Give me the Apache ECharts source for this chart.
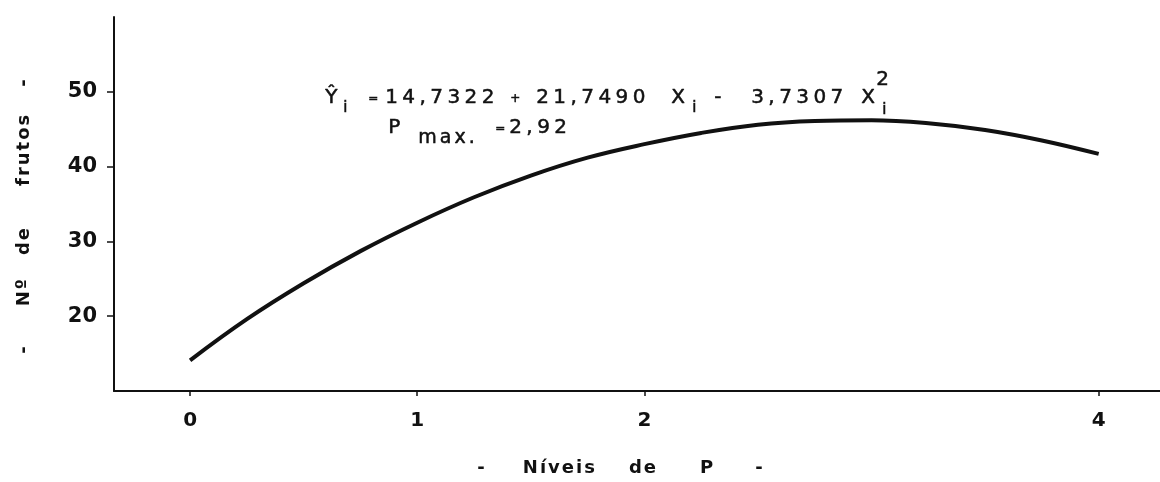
<!DOCTYPE html>
<html>
<head>
<meta charset="utf-8">
<script src="https://cdn.jsdelivr.net/npm/echarts@6/dist/echarts.min.js"></script>
<style>
  html, body { margin: 0; padding: 0; background: #fff; }
  #chart { width: 1160px; height: 482px; }
</style>
</head>
<body>
<div id="chart"></div>
<script>
// Phosphorus levels (x) and fitted number of fruits (y)
const pLevels = [0, 0.25, 0.5, 0.75, 1, 1.25, 1.5, 1.75, 2, 2.25, 2.5, 2.75, 3, 3.25, 3.5, 3.75, 4];
const fruits  = [14.1, 19.6, 24.4, 28.7, 32.5, 35.9, 38.8, 41.2, 43.0, 44.5, 45.6, 46.1, 46.2, 45.8, 44.9, 43.5, 41.7];

const xTicks = [0, 1, 2, 4];
const yTicks = [20, 30, 40, 50];

// axis titles: words separated by gaps (px)
const xTitleParts = ['-', 36, 'Níveis', 32, 'de', 42, 'P', 40, '-'];
const yTitleParts = ['-', 38, 'Nº', 22, 'de', 40, 'frutos', 26, '-'];

const INK = '#111';
const FONT = '"DejaVu Sans", sans-serif';

// wide-lettered rich text: every glyph gets side padding, numbers become gaps
function lettered(parts, key) {
  return parts.map(p => typeof p === 'number'
    ? `{gap${p}| }`
    : p.split('').map(c => `{${key}|${c}}`).join('')).join('');
}
function gapStyles(parts, base) {
  const out = {};
  parts.filter(p => typeof p === 'number').forEach(p => {
    out['gap' + p] = Object.assign({}, base, { width: p, padding: 0 });
  });
  return out;
}

const titleBase = { fontFamily: FONT, fontSize: 18, fontWeight: 'bold', color: INK, padding: [0, 1, 0, 1] };
const xTitleRich = Object.assign({ c: titleBase }, gapStyles(xTitleParts, titleBase));
const yTitleRich = Object.assign({ c: titleBase }, gapStyles(yTitleParts, titleBase));

// lettering for the equation, slightly heavier than the plain face
const pen = { fontFamily: FONT, fill: INK, stroke: INK, lineWidth: 0.5 };
const eqRich = {
  t: Object.assign({ fontSize: 20, padding: [0, 2.2, 0, 2.2] }, pen),
  m: Object.assign({ fontSize: 19, padding: [0, 1.5, 0, 1.5] }, pen),
  s: Object.assign({ fontSize: 15, padding: [0, 1, 0, 1] }, pen),
  o: Object.assign({ fontSize: 12, padding: [0, 1, 0, 1] }, pen)
};

function txt(x, y, str, key) {
  return {
    type: 'text', left: x, top: y, silent: true,
    style: { text: str.split('').map(c => `{${key}|${c}}`).join(''), rich: eqRich, fill: INK }
  };
}

const chart = echarts.init(document.getElementById('chart'), null, { renderer: 'canvas' });

chart.setOption({
  backgroundColor: '#fff',
  animation: false,
  grid: { left: 114, right: 0, top: 17, bottom: 89 },
  xAxis: {
    type: 'value',
    min: -0.335, max: 4.27,
    name: lettered(xTitleParts, 'c'),
    nameLocation: 'middle',
    nameGap: 68,
    nameTextStyle: { rich: xTitleRich, padding: [0, 34, 0, 0] },
    axisLine: { onZero: false, lineStyle: { color: INK, width: 2 } },
    axisTick: { show: true, customValues: xTicks, length: 5, lineStyle: { color: INK, width: 1.5 } },
    axisLabel: { customValues: xTicks, margin: 20, fontFamily: FONT, fontSize: 20, fontWeight: 'bold', color: INK },
    splitLine: { show: false }
  },
  yAxis: {
    type: 'value',
    min: 10, max: 60, interval: 10,
    name: lettered(yTitleParts, 'c'),
    nameLocation: 'middle',
    nameGap: 81,
    nameRotate: 90,
    nameTextStyle: { rich: yTitleRich, padding: [0, 25, 0, 0] },
    axisLine: { onZero: false, lineStyle: { color: INK, width: 2 } },
    axisTick: { show: true, customValues: yTicks, length: 7, lineStyle: { color: INK, width: 1.5 } },
    axisLabel: { customValues: yTicks, margin: 17, fontFamily: FONT, fontSize: 21, fontWeight: 'bold', color: INK },
    splitLine: { show: false }
  },
  series: [{
    type: 'line',
    data: pLevels.map((p, i) => [p, fruits[i]]),
    smooth: 0.4,
    showSymbol: false,
    lineStyle: { color: INK, width: 4 }
  }],
  // regression equation and optimum level
  graphic: [
    txt(325, 88, 'Ŷ', 't'),
    txt(343, 100, 'i', 's'),
    txt(368, 93, '=', 'o'),
    txt(385, 88, '14,7322', 't'),
    txt(510, 93, '+', 'o'),
    txt(536, 88, '21,7490', 't'),
    txt(671, 88, 'X', 't'),
    txt(692, 100, 'i', 's'),
    txt(714, 88, '-', 't'),
    txt(751, 88, '3,7307', 't'),
    txt(861, 88, 'X', 't'),
    txt(882, 102, 'i', 's'),
    txt(876, 70, '2', 't'),
    txt(388, 118, 'P', 't'),
    txt(418, 128, 'max.', 'm'),
    txt(495, 123, '=', 'o'),
    txt(509, 118, '2,92', 't')
  ]
});
</script>
</body>
</html>
